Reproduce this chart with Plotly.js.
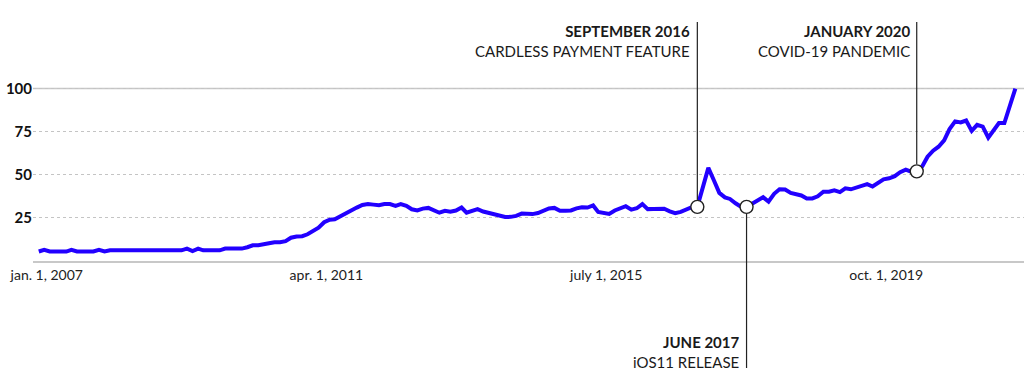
<!DOCTYPE html>
<html>
<head>
<meta charset="utf-8">
<script src="https://cdn.plot.ly/plotly-3.0.1.min.js"></script>
<style>
  html, body { margin: 0; padding: 0; background: #fff; }
  #chart { width: 1024px; height: 385px; }
</style>
</head>
<body>
<div id="chart"></div>
<script>
// ---- DATA ----
// Monthly series, first value = September 2006, last value = July 2021
const startYear = 2006;
const startMonth = 9;
const values = [
  5.5, 6.5, 5.5, 5.5, 5.5, 5.5, 6.5, 5.5, 5.5, 5.5,        // 2006-09 .. 2007-06
  5.5, 6.5, 5.5, 6.2, 6.2, 6.2, 6.2, 6.2, 6.2, 6.2,        // .. 2008-04
  6.2, 6.2, 6.2, 6.2, 6.2, 6.2, 6.2, 7.2, 5.8, 7.2,        // .. 2009-02
  6.2, 6.2, 6.2, 6.2, 7.2, 7.2, 7.2, 7.2, 8.0, 9.1,        // .. 2009-12
  9.1, 9.5, 10.3, 10.9, 10.9, 11.5, 13.5, 14.2, 14.4, 15.5, // .. 2010-10
  17.2, 19.3, 22.5, 24.0, 24.2, 26.0, 28.0, 29.8, 31.0, 32.5, // .. 2011-08
  33.0, 32.7, 32.4, 33.0, 33.0, 32.0, 33.0, 32.0, 30.0, 29.3, // .. 2012-06
  30.4, 30.8, 29.2, 28.0, 29.1, 28.6, 29.3, 31.0, 28.0, 29.0, // .. 2013-04
  30.1, 28.7, 27.8, 27.1, 26.5, 25.5, 25.6, 26.2, 27.5, 27.5, // .. 2014-02
  27.2, 27.8, 29.1, 30.5, 30.8, 29.1, 29.1, 29.3, 30.5, 31.2, // .. 2014-12
  31.0, 32.2, 28.5, 27.8, 27.3, 29.3, 30.6, 31.8, 29.8, 30.6, // .. 2015-10
  33.0, 30.1, 30.2, 30.4, 30.3, 28.8, 27.7, 28.5, 29.7, 31.2, // .. 2016-08
  31.4, 42.0, 54.0, 47.0, 39.5, 36.9, 36.0, 33.5, 31.5, 31.4, // .. 2017-06
  33.2, 35.5, 37.0, 34.5, 39.0, 41.6, 41.5, 39.5, 38.6, 38.0, // .. 2018-04
  36.3, 36.3, 37.5, 40.2, 40.2, 41.0, 40.0, 42.2, 41.6, 42.5, // .. 2019-02
  43.7, 44.6, 43.2, 45.5, 47.4, 48.0, 49.2, 51.5, 53.0, 51.8, // .. 2019-12
  52.0, 55.0, 60.5, 64.0, 66.3, 70.0, 76.5, 81.0, 80.4, 81.5, // .. 2020-10
  75.5, 79.0, 78.0, 71.5, 76.0, 80.0, 80.0, 91.0, 100.0       // .. 2021-07
];

const yTickValues = [25, 50, 75, 100];
const yTickLabels = ['25', '50', '75', '100'];
const xTickDates = ['2007-01-01', '2011-04-01', '2015-07-01', '2019-10-01'];
const xTickLabels = ['jan. 1, 2007', 'apr. 1, 2011', 'july 1, 2015', 'oct. 1, 2019'];

const eventDates = ['2016-09-01', '2017-06-01', '2020-01-01'];
const eventTitles = ['SEPTEMBER 2016', 'JUNE 2017', 'JANUARY 2020'];
const eventSubtitles = ['CARDLESS PAYMENT FEATURE', 'iOS11 RELEASE', 'COVID-19 PANDEMIC'];
const eventSides = ['above', 'below', 'above'];

// ---- BUILD ----
const dates = values.map((v, i) => {
  const m0 = (startMonth - 1) + i;
  const y = startYear + Math.floor(m0 / 12);
  const m = (m0 % 12) + 1;
  return y + '-' + String(m).padStart(2, '0') + '-01';
});
const eventValues = eventDates.map(d => values[dates.indexOf(d)]);

const FONT = 'Lato, "Open Sans", sans-serif';
const LINE_TOP = 139.5;   // y (axis units) where upper leader lines end
const LINE_BOTTOM = -63;  // y (axis units) where lower leader lines end

const traces = [
  {
    x: dates, y: values, type: 'scatter', mode: 'lines',
    line: { color: '#2200ff', width: 4, shape: 'linear' },
    hoverinfo: 'x+y'
  },
  {
    x: eventDates, y: eventValues, type: 'scatter', mode: 'markers',
    marker: { size: 13, color: '#ffffff', line: { color: '#222222', width: 1.4 } },
    cliponaxis: false, hoverinfo: 'skip'
  }
];

const annotations = [];
eventDates.forEach((d, i) => {
  const above = eventSides[i] === 'above';
  annotations.push({
    x: d, y: eventValues[i], xref: 'x', yref: 'y',
    ax: d, ay: above ? LINE_TOP : LINE_BOTTOM, axref: 'x', ayref: 'y',
    text: '', showarrow: true, arrowhead: 0, arrowwidth: 1.2,
    arrowcolor: '#222222', standoff: 7
  });
  annotations.push({
    x: d, xref: 'x', xanchor: 'right', xshift: -5,
    y: above ? 1 : 0, yref: 'paper',
    yanchor: above ? 'top' : 'bottom',
    yshift: above ? 60 : -112,
    align: 'right', showarrow: false,
    text: '<b>' + eventTitles[i] + '</b><br>' + eventSubtitles[i],
    font: { family: FONT, size: 15, color: '#1a1a1a' }
  });
});

const layout = {
  width: 1024, height: 385,
  margin: { l: 33, r: 0, t: 80, b: 124 },
  paper_bgcolor: '#ffffff', plot_bgcolor: '#ffffff',
  showlegend: false,
  font: { family: FONT, color: '#222' },
  xaxis: {
    type: 'date',
    range: ['2006-07-31', '2021-08-18'],
    tickmode: 'array', tickvals: xTickDates, ticktext: xTickLabels,
    ticks: '', showgrid: false, zeroline: false,
    showline: true, linecolor: '#c8c8c8', linewidth: 2,
    ticklabelshift: -14,
    tickfont: { family: FONT, size: 14, color: '#222' }
  },
  yaxis: {
    range: [0, 105],
    tickmode: 'array', tickvals: yTickValues, ticktext: yTickLabels,
    ticks: '', showgrid: true, gridcolor: '#c4c4c4', griddash: 'dot', gridwidth: 1,
    zeroline: false, showline: false,
    tickfont: { family: FONT, size: 15, color: '#111', weight: 'bold' }
  },
  shapes: [
    { type: 'line', xref: 'paper', yref: 'y', x0: 0, x1: 1, y0: 100, y1: 100,
      line: { color: '#c8c8c8', width: 1.5 }, layer: 'below' }
  ],
  annotations: annotations
};

Plotly.newPlot('chart', traces, layout, { displayModeBar: false, staticPlot: true });
</script>
</body>
</html>
